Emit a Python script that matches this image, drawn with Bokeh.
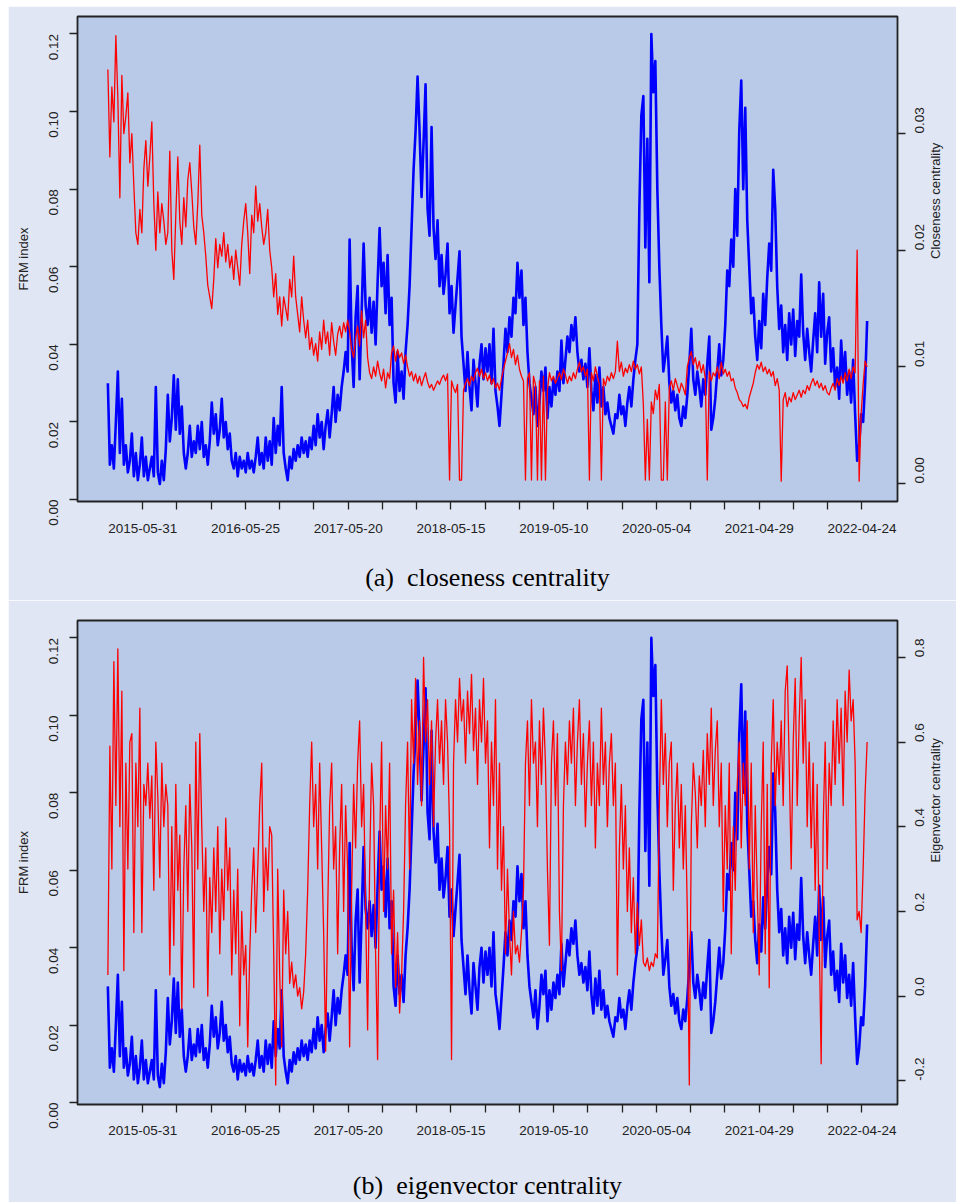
import math
import pandas as pd
from bokeh.plotting import figure
from bokeh.models import Range1d, LinearAxis, FixedTicker, NumeralTickFormatter
from bokeh.layouts import column
from bokeh.embed import file_html
from bokeh.resources import INLINE

# ---------------- data (one value per week) ----------------
START_DATE = "2015-01-29"
STEP = "7D"

FRM = [
0.030,0.009,0.014,0.008,0.020,0.033,0.012,0.026,0.009,0.014,
0.007,0.010,0.017,0.006,0.012,0.005,0.009,0.016,0.006,0.011,
0.005,0.008,0.011,0.006,0.029,0.007,0.004,0.010,0.005,0.013,
0.027,0.015,0.021,0.032,0.018,0.031,0.017,0.024,0.012,0.008,
0.012,0.019,0.011,0.015,0.012,0.019,0.013,0.020,0.011,0.014,
0.009,0.015,0.025,0.017,0.022,0.014,0.018,0.026,0.016,0.020,
0.013,0.017,0.010,0.008,0.012,0.006,0.011,0.008,0.010,0.007,
0.012,0.008,0.010,0.007,0.011,0.016,0.009,0.012,0.008,0.016,
0.010,0.015,0.009,0.021,0.012,0.019,0.014,0.029,0.012,0.008,
0.005,0.011,0.008,0.013,0.010,0.014,0.011,0.016,0.012,0.015,
0.011,0.016,0.013,0.019,0.014,0.022,0.016,0.020,0.013,0.019,
0.023,0.016,0.022,0.029,0.020,0.027,0.023,0.029,0.033,0.038,
0.033,0.067,0.040,0.029,0.047,0.055,0.031,0.048,0.066,0.050,
0.045,0.052,0.043,0.051,0.040,0.056,0.070,0.055,0.061,0.048,
0.063,0.045,0.052,0.030,0.025,0.038,0.028,0.033,0.026,0.038,
0.045,0.055,0.070,0.085,0.095,0.109,0.095,0.078,0.092,0.107,
0.075,0.068,0.096,0.070,0.062,0.072,0.055,0.063,0.053,0.058,
0.066,0.048,0.055,0.043,0.050,0.057,0.064,0.042,0.035,0.028,
0.038,0.029,0.023,0.036,0.030,0.024,0.035,0.040,0.031,0.039,
0.033,0.040,0.030,0.044,0.028,0.024,0.019,0.027,0.035,0.044,
0.038,0.047,0.042,0.052,0.048,0.061,0.052,0.059,0.045,0.052,
0.038,0.030,0.026,0.022,0.029,0.019,0.025,0.033,0.028,0.034,
0.021,0.029,0.024,0.031,0.027,0.033,0.028,0.041,0.030,0.036,
0.042,0.038,0.045,0.041,0.047,0.038,0.033,0.036,0.031,0.035,
0.029,0.039,0.028,0.023,0.032,0.025,0.034,0.024,0.029,0.022,
0.025,0.021,0.019,0.017,0.022,0.021,0.027,0.022,0.024,0.019,
0.025,0.029,0.024,0.031,0.036,0.040,0.075,0.099,0.104,0.065,
0.093,0.056,0.120,0.105,0.113,0.080,0.060,0.045,0.033,0.037,
0.042,0.030,0.025,0.028,0.023,0.027,0.021,0.019,0.024,0.021,
0.027,0.035,0.044,0.031,0.027,0.033,0.029,0.024,0.031,0.027,
0.035,0.042,0.018,0.021,0.026,0.033,0.040,0.032,0.036,0.045,
0.059,0.055,0.067,0.060,0.080,0.068,0.095,0.108,0.080,0.101,
0.072,0.060,0.048,0.052,0.042,0.036,0.046,0.039,0.053,0.045,
0.057,0.066,0.059,0.085,0.075,0.055,0.044,0.050,0.038,0.045,
0.036,0.048,0.040,0.049,0.037,0.046,0.042,0.058,0.043,0.036,
0.044,0.038,0.033,0.041,0.048,0.038,0.056,0.042,0.053,0.035,
0.043,0.047,0.033,0.039,0.029,0.034,0.026,0.041,0.031,0.038,
0.027,0.033,0.025,0.036,0.022,0.010,0.014,0.022,0.020,0.030,
0.046,
]

CLOSENESS = [
0.0355,0.0280,0.0340,0.0310,0.0384,0.0330,0.0245,0.0350,0.0300,0.0315,
0.0335,0.0275,0.0300,0.0255,0.0215,0.0205,0.0235,0.0215,0.0270,0.0294,
0.0255,0.0280,0.0310,0.0240,0.0200,0.0250,0.0215,0.0240,0.0225,0.0205,
0.0215,0.0285,0.0200,0.0175,0.0230,0.0280,0.0225,0.0205,0.0245,0.0220,
0.0260,0.0275,0.0250,0.0220,0.0205,0.0240,0.0290,0.0230,0.0215,0.0195,
0.0170,0.0160,0.0150,0.0175,0.0210,0.0185,0.0205,0.0195,0.0215,0.0190,
0.0205,0.0185,0.0195,0.0175,0.0200,0.0185,0.0170,0.0205,0.0225,0.0240,
0.0215,0.0180,0.0230,0.0215,0.0255,0.0225,0.0240,0.0220,0.0205,0.0215,
0.0235,0.0200,0.0185,0.0160,0.0180,0.0145,0.0160,0.0135,0.0160,0.0150,
0.0140,0.0175,0.0160,0.0195,0.0160,0.0145,0.0130,0.0160,0.0140,0.0125,
0.0140,0.0115,0.0125,0.0110,0.0120,0.0105,0.0130,0.0115,0.0140,0.0120,
0.0130,0.0110,0.0138,0.0122,0.0110,0.0128,0.0135,0.0125,0.0138,0.0130,
0.0140,0.0130,0.0115,0.0108,0.0125,0.0135,0.0118,0.0148,0.0125,0.0140,
0.0108,0.0095,0.0090,0.0100,0.0092,0.0105,0.0095,0.0088,0.0098,0.0082,
0.0095,0.0090,0.0112,0.0118,0.0105,0.0115,0.0108,0.0112,0.0103,0.0110,
0.0100,0.0092,0.0096,0.0088,0.0094,0.0086,0.0092,0.0084,0.0090,0.0095,
0.0087,0.0082,0.0085,0.0080,0.0084,0.0088,0.0085,0.0090,0.0093,0.0088,
0.0094,0.0003,0.0088,0.0082,0.0078,0.0085,0.0003,0.0003,0.0080,0.0086,
0.0090,0.0084,0.0092,0.0088,0.0095,0.0099,0.0092,0.0098,0.0090,0.0095,
0.0088,0.0093,0.0085,0.0090,0.0082,0.0086,0.0080,0.0090,0.0098,0.0105,
0.0112,0.0120,0.0108,0.0115,0.0102,0.0110,0.0098,0.0092,0.0088,0.0003,
0.0090,0.0095,0.0003,0.0092,0.0085,0.0003,0.0088,0.0003,0.0092,0.0003,
0.0080,0.0095,0.0088,0.0092,0.0086,0.0090,0.0095,0.0089,0.0098,0.0093,
0.0086,0.0092,0.0088,0.0095,0.0090,0.0098,0.0104,0.0096,0.0100,0.0092,
0.0098,0.0003,0.0095,0.0088,0.0100,0.0092,0.0085,0.0003,0.0090,0.0084,
0.0092,0.0088,0.0095,0.0090,0.0096,0.0122,0.0096,0.0104,0.0092,0.0099,
0.0095,0.0102,0.0096,0.0105,0.0098,0.0102,0.0094,0.0100,0.0068,0.0003,
0.0055,0.0003,0.0070,0.0060,0.0080,0.0072,0.0085,0.0003,0.0003,0.0070,
0.0003,0.0082,0.0088,0.0080,0.0090,0.0084,0.0078,0.0086,0.0082,0.0076,
0.0100,0.0108,0.0113,0.0102,0.0108,0.0098,0.0105,0.0095,0.0102,0.0090,
0.0003,0.0096,0.0088,0.0095,0.0092,0.0100,0.0090,0.0104,0.0094,0.0098,
0.0092,0.0096,0.0088,0.0090,0.0082,0.0078,0.0072,0.0070,0.0066,0.0068,
0.0064,0.0074,0.0080,0.0086,0.0095,0.0102,0.0098,0.0104,0.0096,0.0100,
0.0094,0.0098,0.0092,0.0096,0.0084,0.0090,0.0080,0.0002,0.0072,0.0078,
0.0066,0.0074,0.0070,0.0078,0.0072,0.0076,0.0080,0.0074,0.0080,0.0077,
0.0084,0.0080,0.0086,0.0090,0.0084,0.0088,0.0082,0.0086,0.0080,0.0084,
0.0078,0.0076,0.0082,0.0086,0.0080,0.0090,0.0084,0.0092,0.0086,0.0095,
0.0088,0.0098,0.0090,0.0100,0.0095,0.0200,0.0002,0.0060,0.0085,0.0105,
0.0100,
]

EIGENVECTOR = [
0.05,0.59,0.30,0.79,0.45,0.82,0.40,0.72,0.06,0.55,
0.30,0.60,0.62,0.15,0.55,0.40,0.68,0.15,0.50,0.45,
0.55,0.42,0.52,0.25,0.60,0.47,0.28,0.55,0.40,0.50,
0.45,0.05,0.40,0.12,0.50,0.25,0.38,-0.03,0.30,0.45,
0.20,0.50,0.35,0.02,0.60,0.30,0.62,0.40,0.20,0.35,
0.00,0.28,0.15,0.35,0.20,0.40,0.10,0.30,0.18,0.42,
0.25,0.35,0.05,0.25,0.10,0.30,-0.07,0.20,0.05,0.12,
-0.12,0.10,0.25,0.35,0.15,0.30,0.45,0.55,0.20,0.35,
0.25,0.40,0.38,0.10,-0.21,0.30,0.05,-0.12,0.25,0.10,
0.20,0.03,0.08,0.02,0.05,0.00,0.02,-0.03,0.01,0.10,
0.25,0.45,0.60,0.40,0.50,0.30,0.55,0.35,0.15,-0.13,
0.20,0.45,0.55,0.30,0.40,0.10,0.35,0.50,0.20,0.45,
0.30,-0.12,0.25,0.50,0.35,0.55,0.65,0.40,0.50,0.20,
-0.08,0.30,0.55,0.45,0.10,-0.15,0.35,0.60,0.20,0.45,
0.30,0.55,0.10,0.25,0.02,0.15,-0.04,0.05,0.20,0.45,
0.60,0.30,0.70,0.55,0.75,0.50,0.65,0.45,0.80,0.60,
0.70,0.50,0.65,0.40,0.60,0.70,0.55,0.65,0.50,0.70,
0.60,0.40,-0.15,0.55,0.70,0.60,0.75,0.65,0.70,0.55,
0.72,0.62,0.76,0.58,0.68,0.50,0.70,0.60,0.75,0.55,
0.65,0.35,0.60,0.45,0.70,0.30,0.55,0.25,0.40,0.10,
0.30,0.15,0.05,0.20,0.10,0.12,0.08,0.15,0.25,0.55,
0.65,0.45,0.70,0.55,0.60,0.40,0.65,0.50,0.68,0.55,
0.30,0.12,0.55,0.65,0.45,0.62,0.20,0.06,0.45,0.60,
0.50,0.65,0.55,0.68,0.45,0.60,0.70,0.50,0.62,0.40,
0.55,0.65,0.45,0.60,0.35,0.55,0.45,0.68,0.50,0.60,
0.40,0.55,0.62,0.45,0.55,0.05,0.35,0.50,0.30,0.45,
0.20,0.35,0.15,0.28,0.10,0.22,0.12,0.18,0.08,0.07,
0.09,0.06,0.08,0.07,0.10,0.09,0.45,0.70,0.50,0.62,
0.40,0.55,0.60,0.25,0.45,0.55,0.35,0.50,0.30,0.45,
0.20,-0.21,0.40,0.55,0.48,0.35,0.52,0.45,0.58,0.40,
0.62,0.50,0.68,0.45,0.58,0.65,0.40,0.55,0.20,0.45,
0.30,0.55,0.10,0.40,0.25,0.50,0.60,0.35,0.55,0.45,
0.65,0.30,0.55,0.15,0.45,0.25,0.05,0.40,0.60,0.10,
0.50,0.02,0.55,0.70,0.45,0.60,0.50,0.65,0.45,0.72,
0.78,0.55,0.30,0.60,0.75,0.45,0.65,0.80,0.55,0.70,
0.40,0.60,0.35,0.55,0.25,0.50,0.15,-0.16,0.40,0.60,
0.30,0.55,0.45,0.65,0.50,0.70,0.55,0.68,0.45,0.72,
0.60,0.77,0.65,0.70,0.55,0.18,0.20,0.15,0.30,0.48,
0.60,
]

TICK_START = "2015-05-31"
TICK_STEP = "120D"
N_TICKS = 22
TICK_LABELS = ["2015-05-31", "2016-05-25", "2017-05-20", "2018-05-15",
               "2019-05-10", "2020-05-04", "2021-04-29", "2022-04-24"]

FRM_TICKS = [0.00, 0.02, 0.04, 0.06, 0.08, 0.10, 0.12]
CLOSE_TICKS = [0.00, 0.01, 0.02, 0.03]
EIGEN_TICKS = [-0.2, 0.0, 0.2, 0.4, 0.6, 0.8]

# ---------------- styling ----------------
PLOT_BG = "#B8CAE8"
OUTER_BG = "#E0E6F3"
INK = "#222222"
SANS = "Liberation Sans"
SERIF = "Liberation Serif"

dates = pd.date_range(START_DATE, periods=len(FRM), freq=STEP)
tick_dates = pd.date_range(TICK_START, periods=N_TICKS, freq=TICK_STEP)
tick_ms = [d.value / 1e6 for d in tick_dates]
overrides = {}
for d, ms in zip(tick_dates, tick_ms):
    s = d.strftime("%Y-%m-%d")
    overrides[ms] = s if s in TICK_LABELS else ""

t0 = dates[0].value / 1e6
t1 = dates[-1].value / 1e6
pad = 0.04 * (t1 - t0)


def style_axis(ax, vertical):
    ax.axis_line_color = None
    ax.major_tick_out = 8
    ax.major_tick_in = 0
    ax.minor_tick_line_color = None
    ax.major_tick_line_color = INK
    ax.major_tick_line_width = 1.3
    ax.major_label_text_font = SANS
    ax.major_label_text_font_size = "13.5px"
    ax.major_label_text_color = INK
    ax.major_label_standoff = 9
    ax.axis_label_text_font = SANS
    ax.axis_label_text_font_style = "normal"
    ax.axis_label_text_font_size = "13px"
    ax.axis_label_text_color = INK
    if vertical:
        ax.major_label_orientation = math.pi / 2


def panel(series, right_range, right_ticks, right_fmt, right_label, caption,
          height, top, bottom, tick_standoff, caption_standoff):
    p = figure(width=948, height=height, x_axis_type="datetime",
               x_range=Range1d(t0 - pad, t1 + pad),
               y_range=Range1d(-0.0005, 0.1245),
               output_backend="svg", toolbar_location=None,
               min_border_left=69, min_border_right=59,
               min_border_top=top, min_border_bottom=bottom,
               background_fill_color=PLOT_BG, border_fill_color=OUTER_BG)
    p.grid.visible = False
    p.outline_line_color = INK
    p.outline_line_width = 1.8
    p.extra_y_ranges = {"right": right_range}

    p.line(dates, FRM, color="#0000FF", line_width=2.6, line_join="round")
    p.line(dates, series, color="#FF0000", line_width=1.3, line_join="round",
           y_range_name="right")

    ly = p.yaxis[0]
    ly.ticker = FixedTicker(ticks=FRM_TICKS)
    ly.formatter = NumeralTickFormatter(format="0.00")
    ly.axis_label = "FRM index"
    style_axis(ly, True)
    ly.major_label_standoff = 16
    ly.axis_label_standoff = 11

    ry = LinearAxis(y_range_name="right", ticker=FixedTicker(ticks=right_ticks),
                    formatter=NumeralTickFormatter(format=right_fmt),
                    axis_label=right_label)
    style_axis(ry, True)
    ry.major_label_standoff = 14
    ry.axis_label_standoff = 4
    ry.axis_label_orientation = math.pi / 2
    p.add_layout(ry, "right")

    xa = p.xaxis[0]
    xa.ticker = FixedTicker(ticks=tick_ms)
    xa.major_label_overrides = overrides
    style_axis(xa, False)
    xa.major_label_standoff = tick_standoff
    xa.axis_label = caption
    xa.axis_label_text_font = SERIF
    xa.axis_label_text_font_size = "26px"
    xa.axis_label_text_color = "#000000"
    xa.axis_label_standoff = caption_standoff
    return p


pa = panel(CLOSENESS, Range1d(-0.00154, 0.04004), CLOSE_TICKS, "0.00",
           "Closeness centrality", "(a)\u00a0 closeness centrality",
           594, 10, 99, 14, 27)
pb = panel(EIGENVECTOR, Range1d(-0.256, 0.887), EIGEN_TICKS, "0.0",
           "Eigenvector centrality", "(b)\u00a0 eigenvector centrality",
           602, 20, 97, 13, 33)

layout = column(pa, pb, margin=(6, 0, 0, 8), spacing=0)
open("out.html", "w").write(file_html(layout, INLINE))
